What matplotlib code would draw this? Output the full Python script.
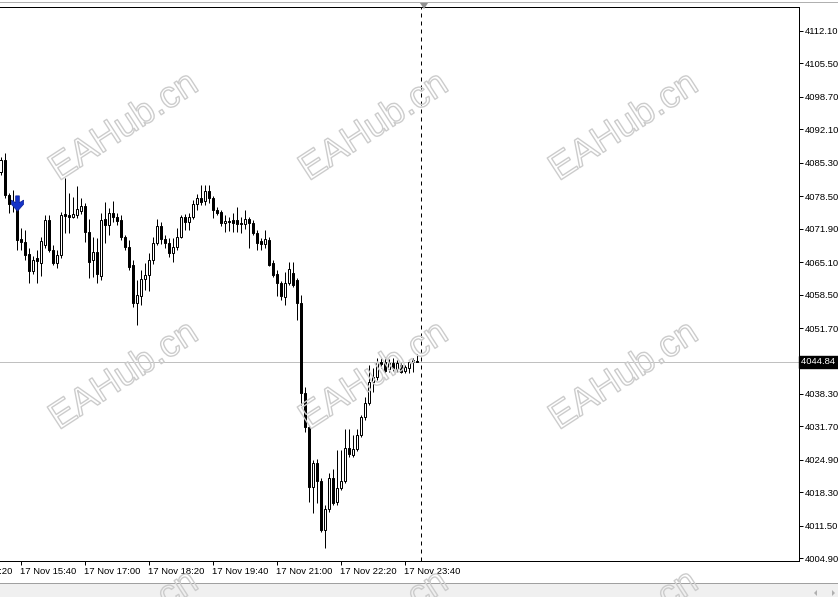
import matplotlib
matplotlib.use('Agg')
import matplotlib.pyplot as plt
import matplotlib.patheffects as pe
from matplotlib.path import Path
from matplotlib.patches import Rectangle, Polygon
from matplotlib.lines import Line2D
import numpy as np

# ---------------- data (M5 bars, 17 Nov 15:15 .. 23:55) ----------------
opens = [
    4083.39, 4085.83, 4078.72, 4077.29, 4076.68, 4069.77, 4069.16, 4066.72, 4063.27, 4065.91,
    4064.89, 4068.55, 4073.64, 4067.54, 4064.89, 4066.52, 4074.86, 4074.65, 4074.25, 4074.65,
    4075.46, 4076.48, 4071.20, 4065.50, 4067.13, 4062.25, 4073.84, 4072.62, 4075.06, 4074.25,
    4073.64, 4070.18, 4068.15, 4064.49, 4056.76, 4058.18, 4061.64, 4062.45, 4065.50, 4068.96,
    4072.42, 4069.77, 4068.96, 4066.93, 4068.15, 4070.18, 4074.25, 4073.23, 4074.25, 4076.89,
    4078.11, 4077.50, 4079.53, 4078.11, 4075.67, 4075.26, 4073.03, 4073.43, 4073.64, 4073.64,
    4073.03, 4072.82, 4073.84, 4073.03, 4070.99, 4069.37, 4068.76, 4069.57, 4064.89, 4062.66,
    4060.83, 4057.98, 4060.83, 4062.86, 4061.44, 4056.76, 4038.49, 4031.59, 4019.40, 4024.27,
    4020.61, 4010.66, 4014.93, 4021.22, 4016.35, 4019.19, 4020.61, 4027.32, 4025.89, 4027.11,
    4029.96, 4033.61, 4036.46, 4040.72, 4041.74, 4044.79, 4044.79, 4043.36, 4044.59, 4043.36,
    4044.18, 4042.96, 4043.57, 4044.79, 4045.00]

highs = [
    4086.44, 4087.25, 4079.12, 4079.73, 4078.11, 4072.01, 4071.60, 4067.94, 4066.32, 4067.54,
    4070.18, 4074.65, 4074.65, 4068.55, 4067.54, 4075.26, 4082.17, 4079.12, 4078.31, 4080.54,
    4078.11, 4077.09, 4073.84, 4070.18, 4069.98, 4075.06, 4077.29, 4076.07, 4077.50, 4075.06,
    4074.65, 4070.59, 4069.57, 4065.50, 4061.44, 4063.47, 4064.89, 4066.93, 4070.18, 4073.84,
    4073.23, 4070.59, 4069.98, 4069.98, 4072.01, 4074.65, 4074.86, 4075.06, 4077.70, 4078.92,
    4080.75, 4080.75, 4080.75, 4078.51, 4076.28, 4075.67, 4074.65, 4074.25, 4075.06, 4076.28,
    4074.25, 4075.67, 4074.25, 4073.64, 4071.60, 4069.98, 4071.60, 4070.18, 4065.50, 4063.47,
    4061.23, 4063.06, 4065.10, 4065.10, 4061.84, 4058.39, 4039.71, 4031.99, 4024.88, 4025.08,
    4021.22, 4015.74, 4022.24, 4023.05, 4026.91, 4026.91, 4031.18, 4031.18, 4029.96, 4031.18,
    4034.02, 4037.68, 4044.18, 4043.57, 4045.60, 4045.60, 4045.81, 4045.40, 4045.60, 4045.20,
    4044.59, 4044.18, 4045.20, 4045.60, 4046.42]

lows = [
    4082.78, 4078.11, 4075.06, 4075.26, 4067.54, 4067.54, 4065.50, 4060.83, 4062.66, 4060.83,
    4062.25, 4067.94, 4067.13, 4064.49, 4063.88, 4065.91, 4070.99, 4070.99, 4074.04, 4074.04,
    4074.86, 4069.16, 4061.84, 4062.05, 4060.83, 4061.44, 4068.96, 4070.59, 4073.23, 4072.62,
    4069.57, 4067.54, 4063.47, 4055.95, 4052.30, 4056.36, 4059.40, 4059.20, 4064.69, 4068.55,
    4068.76, 4067.94, 4066.11, 4065.10, 4067.54, 4069.98, 4071.60, 4071.60, 4073.84, 4075.67,
    4076.68, 4076.68, 4077.09, 4074.04, 4074.65, 4072.42, 4071.20, 4071.40, 4071.20, 4071.20,
    4070.99, 4071.81, 4067.94, 4070.59, 4067.54, 4067.54, 4067.94, 4064.28, 4062.05, 4058.18,
    4057.37, 4056.36, 4060.42, 4060.01, 4053.31, 4036.05, 4030.57, 4016.35, 4014.11, 4016.14,
    4010.25, 4007.00, 4014.32, 4015.74, 4015.74, 4018.79, 4020.21, 4025.49, 4025.49, 4026.71,
    4029.55, 4033.01, 4036.05, 4038.70, 4041.13, 4043.57, 4042.55, 4042.75, 4042.96, 4042.75,
    4042.55, 4042.55, 4042.55, 4042.75, 4044.84]

closes = [
    4085.83, 4078.72, 4076.89, 4077.09, 4069.57, 4069.16, 4066.52, 4063.27, 4065.50, 4065.30,
    4069.37, 4073.64, 4067.54, 4064.89, 4066.52, 4074.65, 4074.45, 4074.25, 4074.86, 4075.87,
    4076.48, 4071.20, 4065.10, 4067.13, 4062.66, 4073.64, 4072.62, 4075.06, 4074.25, 4073.43,
    4070.18, 4068.15, 4064.08, 4056.76, 4058.39, 4061.64, 4062.45, 4065.50, 4068.96, 4072.42,
    4069.77, 4068.96, 4066.93, 4068.15, 4070.18, 4074.25, 4073.23, 4074.25, 4076.89, 4078.11,
    4077.29, 4079.53, 4078.11, 4075.67, 4075.06, 4073.03, 4073.43, 4073.23, 4073.03, 4072.82,
    4072.82, 4073.84, 4073.03, 4070.99, 4068.96, 4068.76, 4069.77, 4064.49, 4062.45, 4060.83,
    4058.18, 4060.83, 4063.67, 4060.42, 4056.76, 4038.49, 4031.59, 4019.40, 4024.27, 4020.61,
    4010.66, 4014.93, 4021.22, 4016.14, 4019.19, 4020.61, 4027.32, 4026.10, 4027.11, 4029.96,
    4033.61, 4036.46, 4040.72, 4041.74, 4044.79, 4044.38, 4042.96, 4044.59, 4043.57, 4044.59,
    4042.75, 4043.77, 4044.79, 4045.20, 4044.84]

time_label_bars = [-11, 5, 21, 37, 53, 69, 85, 101]
time_labels = ["17 Nov 14:20", "17 Nov 15:40", "17 Nov 17:00", "17 Nov 18:20",
               "17 Nov 19:40", "17 Nov 21:00", "17 Nov 22:20", "17 Nov 23:40"]
price_ticks = [4112.10, 4105.50, 4098.70, 4092.10, 4085.30, 4078.50, 4071.90, 4065.10,
               4058.50, 4051.70, 4038.30, 4031.70, 4024.90, 4018.30, 4011.50, 4004.90]
price_tick_labels = ["4112.10", "4105.50", "4098.70", "4092.10", "4085.30", "4078.50",
                     "4071.90", "4065.10", "4058.50", "4051.70", "4038.30", "4031.70",
                     "4024.90", "4018.30", "4011.50", "4004.90"]
last_price = 4044.84
last_price_label = "4044.84"
separator_bar = 105
signal_bar = 4
signal_price = 4077.0
watermark_text = "EAHub.cn"

# ---------------- figure ----------------
W, H = 838, 597
FONT = 'Liberation Sans'
fig = plt.figure(figsize=(W / 100, H / 100), dpi=100)
fig.patch.set_facecolor('white')

def fx(px):
    return px / W

def fy(py):
    return 1 - py / H

ax_l, ax_r, ax_t, ax_b = 0, 799, 7, 561
ax = fig.add_axes([fx(ax_l), fy(ax_b), (ax_r - ax_l) / W, (ax_b - ax_t) / H])
ax.set_facecolor('white')

n = len(opens)
assert len(highs) == n and len(lows) == n and len(closes) == n
x = np.arange(n)
o = np.array(opens); h = np.array(highs); l = np.array(lows); c = np.array(closes)

ax.set_xlim(-0.125, 199.625)
ax.set_ylim(4004.36, 4116.92)

LW = 0.72  # 1 px

# price line
ax.axhline(last_price, color='#c0c0c0', lw=LW, zorder=1)

# wicks
ax.vlines(x, l, h, color='black', lw=LW, zorder=2)
# bodies
bottoms = np.minimum(o, c)
heights = np.maximum(np.abs(c - o), 0.04)
face = ['white' if cc >= oo else 'black' for oo, cc in zip(o, c)]
ax.bar(x, heights, bottom=bottoms, width=0.5, color=face, edgecolor='black',
       linewidth=LW, zorder=3)

# day separator
ax.axvline(separator_bar, color='black', lw=LW, linestyle=(0, (4, 4)), zorder=2)

# signal arrow (sell)
arrow_verts = [(-0.12, 0.5), (0.12, 0.5), (0.12, 0.05), (0.4, 0.22), (0.4, -0.05),
               (0.0, -0.5), (-0.4, -0.05), (-0.4, 0.22), (-0.12, 0.05), (-0.12, 0.5)]
arrow_path = Path(arrow_verts, [Path.MOVETO] + [Path.LINETO] * 8 + [Path.CLOSEPOLY])
ax.plot([signal_bar], [signal_price], marker=arrow_path, markersize=11,
        color='#1432c8', markeredgecolor='#0a1f96', markeredgewidth=0.5,
        linestyle='none', zorder=5)

# spines
for s in ['top', 'right', 'bottom']:
    ax.spines[s].set_color('black')
    ax.spines[s].set_linewidth(LW)
ax.spines['left'].set_visible(False)

# y ticks on right
ax.yaxis.tick_right()
ax.set_yticks(price_ticks)
ax.set_yticklabels(price_tick_labels, fontfamily=FONT, fontsize=6.8)
ax.tick_params(axis='y', which='both', right=True, left=False, direction='out',
               length=3, width=LW, pad=1.5, colors='black')

# x ticks
ax.set_xticks([b for b in time_label_bars if b >= 0])
ax.set_xticklabels([])
ax.tick_params(axis='x', which='both', bottom=True, top=False, direction='out',
               length=3, width=LW)
ylab = -(571 - ax_b) / (ax_b - ax_t)
for b, lab in zip(time_label_bars, time_labels):
    ax.text(b - 0.15, ylab, lab, transform=ax.get_xaxis_transform(), ha='left',
            va='center', fontsize=6.8, fontfamily=FONT, color='black', clip_on=False)

# last price label box
ax.text(1.002, last_price, last_price_label + '   ', transform=ax.get_yaxis_transform(),
        ha='left', va='center', fontsize=6.8, fontfamily=FONT, color='white',
        bbox=dict(boxstyle='square,pad=0.15', facecolor='black', edgecolor='black'),
        zorder=6, clip_on=False)

# ---------------- window decorations ----------------
fig.add_artist(Line2D([0, 1], [fy(2), fy(2)], color='#b0b0b0', lw=LW))
fig.add_artist(Line2D([0, 1], [fy(583), fy(583)], color='#a0a0a0', lw=LW))
fig.add_artist(Rectangle((0, 0), 1, fy(584), facecolor='#f0f0f0', edgecolor='none'))
fig.add_artist(Polygon([(fx(420), fy(3)), (fx(428), fy(3)), (fx(424), fy(9))],
                       closed=True, facecolor='#909090', edgecolor='none'))
fig.add_artist(Polygon([(fx(817), fy(590)), (fx(817), fy(596)), (fx(814), fy(593))],
                       closed=True, facecolor='#b0b0b0', edgecolor='none'))
fig.add_artist(Polygon([(fx(832), fy(590)), (fx(832), fy(596)), (fx(835), fy(593))],
                       closed=True, facecolor='#b0b0b0', edgecolor='none'))

# ---------------- watermarks ----------------
for cy in [127, 376, 625]:
    for cx in [124, 374, 624]:
        fig.text(fx(cx), fy(cy), watermark_text, rotation=33, ha='center', va='center',
                 fontsize=27, fontfamily=FONT, color='none', zorder=10,
                 path_effects=[pe.Stroke(linewidth=1.0, foreground='#cccccc')])

fig.savefig('out.png', dpi=100, facecolor='white')
